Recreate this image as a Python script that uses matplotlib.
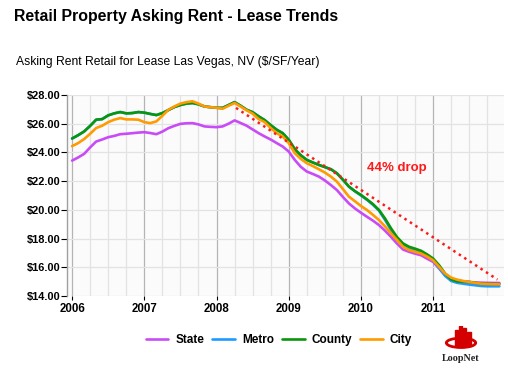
import numpy as np
import matplotlib
matplotlib.use("Agg")
import matplotlib.pyplot as plt
from matplotlib.patches import Ellipse, Rectangle

plt.rcParams["font.family"] = ["Liberation Sans", "DejaVu Sans"]

# monthly asking rent, Jan 2006 .. Dec 2011 ($/SF/Year)
years = [2006, 2007, 2008, 2009, 2010, 2011]
year_labels = ["2006", "2007", "2008", "2009", "2010", "2011"]

county = [
    24.97, 25.20, 25.46, 25.85, 26.28, 26.32, 26.58, 26.72, 26.81, 26.72, 26.74, 26.81,
    26.77, 26.68, 26.60, 26.74, 26.95, 27.16, 27.30, 27.40, 27.44, 27.35, 27.20, 27.15,
    27.11, 27.10, 27.30, 27.50, 27.25, 26.97, 26.80, 26.51, 26.25, 25.90, 25.58, 25.34,
    24.88, 24.23, 23.80, 23.48, 23.30, 23.13, 22.98, 22.83, 22.55, 22.10, 21.62, 21.30,
    21.04, 20.73, 20.40, 19.99, 19.40, 18.71, 18.10, 17.66, 17.43, 17.30, 17.15, 16.90,
    16.61, 16.14, 15.56, 15.16, 15.02, 15.00, 14.98, 14.92, 14.86, 14.85, 14.84, 14.84,
]
metro = county[:48] + [
    21.00, 20.70, 20.35, 19.95, 19.30, 18.60, 18.00, 17.55, 17.35, 17.22, 17.08, 16.82,
    16.50, 15.95, 15.40, 15.05, 14.92, 14.86, 14.80, 14.75, 14.70, 14.68, 14.68, 14.68,
]
city = [
    24.44, 24.65, 24.93, 25.30, 25.70, 25.86, 26.11, 26.28, 26.39, 26.30, 26.30, 26.28,
    26.11, 26.04, 26.16, 26.55, 26.97, 27.20, 27.40, 27.50, 27.56, 27.40, 27.20, 27.15,
    27.11, 27.04, 27.25, 27.44, 27.20, 26.93, 26.70, 26.32, 26.11, 25.70, 25.34, 25.11,
    24.65, 23.95, 23.55, 23.25, 23.05, 22.83, 22.60, 22.32, 21.97, 21.45, 20.92, 20.60,
    20.27, 19.99, 19.65, 19.29, 18.85, 18.36, 17.90, 17.43, 17.20, 17.08, 16.96, 16.75,
    16.49, 16.03, 15.56, 15.28, 15.14, 15.05, 14.98, 14.92, 14.86, 14.84, 14.82, 14.82,
]
state = [
    23.43, 23.65, 23.90, 24.35, 24.76, 24.90, 25.06, 25.15, 25.27, 25.30, 25.34, 25.38,
    25.41, 25.35, 25.27, 25.45, 25.69, 25.85, 25.99, 26.03, 26.04, 25.95, 25.81, 25.78,
    25.76, 25.81, 26.00, 26.23, 26.05, 25.86, 25.60, 25.34, 25.11, 24.90, 24.65, 24.41,
    24.06, 23.48, 23.00, 22.67, 22.50, 22.32, 22.05, 21.73, 21.38, 20.90, 20.45, 20.10,
    19.80, 19.52, 19.25, 18.94, 18.55, 18.12, 17.65, 17.24, 17.08, 16.95, 16.84, 16.60,
    16.38, 15.91, 15.44, 15.21, 15.09, 15.02, 14.98, 14.95, 14.93, 14.92, 14.91, 14.91,
]

# dotted trend line endpoints
trend_x = [2008.27, 2011.89]
trend_y = [27.10, 15.15]
drop_label = "44% drop"

series = [
    ("State", state, "#c94bf5"),
    ("Metro", metro, "#1e9bff"),
    ("County", county, "#0a960a"),
    ("City", city, "#ff9a00"),
]

t = 2006 + np.arange(len(county)) / 12.0

fig = plt.figure(figsize=(5.08, 3.71), dpi=100)
ax = fig.add_axes([0.132, 0.202, 0.860, 0.542])
ax.set_facecolor("#fbfbfb")

for name, vals, col in series:
    ax.plot(t, vals, color=col, lw=1.9, label=name, solid_capstyle="round")

ax.plot(trend_x, trend_y, color="#ff1a1a", lw=1.8, linestyle=(0, (1, 1.6)))
ax.text(2010.5, 22.95, drop_label, color="#ff1a1a", fontsize=9.5,
        fontweight="bold", ha="center", va="center")

ax.set_xlim(2005.93, 2011.98)
ax.set_ylim(14, 28)

ax.set_xticks(years)
ax.set_xticklabels(year_labels, fontsize=8.3, fontweight="bold")
ax.set_xticks(2006 + np.arange(1, 24) / 4.0, minor=True)
ax.set_yticks(np.arange(14, 29, 2))
ax.set_yticklabels(["$%.2f" % v for v in np.arange(14, 29, 2)],
                   fontsize=7.9, fontweight="bold")

ax.grid(axis="y", color="#e3e3e3", lw=0.9)
ax.grid(axis="x", which="minor", color="#e3e3e3", lw=0.9)
ax.grid(axis="x", which="major", color="#b4b4b4", lw=0.9)
ax.set_axisbelow(True)

for s in ["top", "right", "bottom"]:
    ax.spines[s].set_visible(False)
ax.spines["left"].set_color("#a0a0a0")
ax.spines["left"].set_linewidth(1.0)
ax.tick_params(axis="y", length=4, width=0.8, color="black", pad=1)
ax.tick_params(axis="x", which="major", length=3, width=0.8, color="black", pad=2)
ax.tick_params(axis="x", which="minor", length=0)

fig.text(0.028, 0.955, "Retail Property Asking Rent - Lease Trends",
         fontsize=11.4, fontweight="bold", ha="left", va="center")
fig.text(0.032, 0.833, "Asking Rent Retail for Lease Las Vegas, NV ($/SF/Year)",
         fontsize=8.7, ha="left", va="center")

fig.legend(loc="center", bbox_to_anchor=(0.549, 0.083), ncol=4, frameon=False,
           handlelength=1.9, columnspacing=0.7, handletextpad=0.6,
           prop={"weight": "bold", "size": 8.5})

# LoopNet logo, simplified
lax = fig.add_axes([0.855, 0.015, 0.105, 0.105])
lax.set_xlim(0, 1)
lax.set_ylim(0, 1)
lax.axis("off")
for bx, bh in [(0.38, 0.42), (0.46, 0.5), (0.54, 0.46), (0.62, 0.36)]:
    lax.add_patch(Rectangle((bx, 0.5), 0.06, bh, color="#d40000"))
lax.add_patch(Ellipse((0.5, 0.58), 0.55, 0.24, fill=False, ec="#d40000", lw=2.0))
lax.text(0.5, 0.18, "LoopNet", family="Liberation Serif", fontsize=7.3,
         fontweight="bold", ha="center", va="center", color="#222222")

fig.savefig("out.png", dpi=100)
